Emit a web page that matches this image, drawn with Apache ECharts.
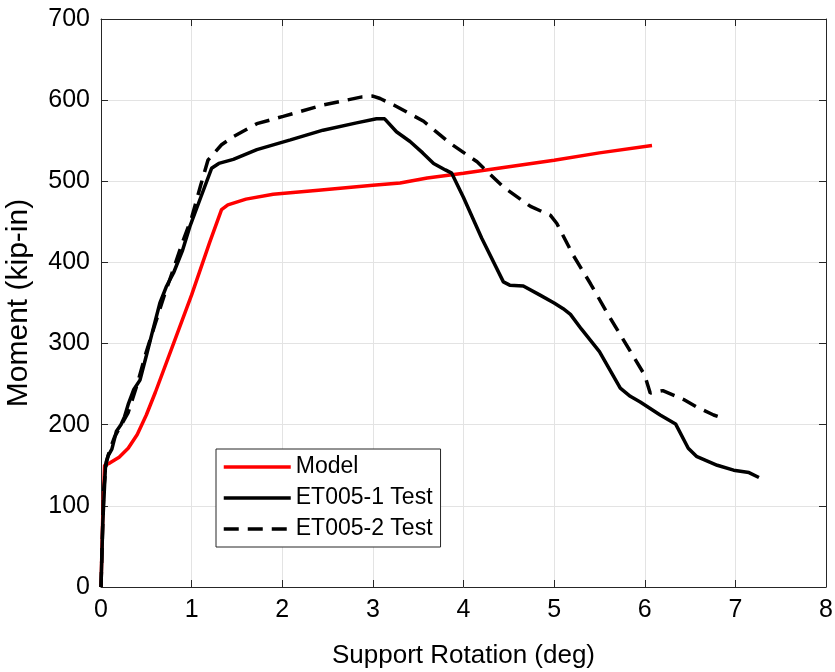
<!DOCTYPE html>
<html>
<head>
<meta charset="utf-8">
<script src="https://cdn.jsdelivr.net/npm/echarts@6/dist/echarts.min.js"></script>
<style>
html,body{margin:0;padding:0;background:#fff;}
#chart{width:835px;height:672px;}
</style>
</head>
<body>
<div id="chart"></div>
<script>
const xTicks = [0,1,2,3,4,5,6,7,8];
const yTicks = [0,100,200,300,400,500,600,700];
const seriesNames = ['Model','ET005-1 Test','ET005-2 Test'];

const modelData = [[0,0],[0.02,90],[0.04,150],[0.1,153],[0.2,160],[0.3,171],[0.4,188],[0.5,212],[0.6,240],[0.8,300],[1.0,360],[1.2,425],[1.33,465],[1.4,471],[1.6,478],[1.9,484],[2.4,489],[3.0,495],[3.3,498],[3.6,504],[4.0,510],[4.5,518],[5.0,526],[5.5,535],[6.08,544]];

const test1Data = [[0,0],[0.02,80],[0.05,150],[0.08,162],[0.12,170],[0.17,192],[0.22,200],[0.26,210],[0.3,225],[0.36,243],[0.43,255],[0.5,285],[0.58,320],[0.65,350],[0.72,370],[0.8,387],[0.9,415],[0.98,444],[1.1,480],[1.22,516],[1.3,522],[1.46,527],[1.72,539],[2.09,551],[2.45,563],[2.82,572],[3.04,577],[3.13,577],[3.26,561],[3.41,549],[3.55,535],[3.67,522],[3.8,514],[3.87,510],[4.0,480],[4.2,430],[4.44,376],[4.51,372],[4.66,371],[4.84,360],[5.0,350],[5.1,343],[5.18,336],[5.3,318],[5.5,290],[5.73,245],[5.84,235],[5.95,228],[6.17,212],[6.34,201],[6.48,171],[6.57,161],[6.8,150],[6.98,144],[7.15,141],[7.26,135]];

const test2Data = [[0,0],[0.03,120],[0.06,155],[0.1,170],[0.15,185],[0.2,195],[0.25,205],[0.3,215],[0.4,250],[0.5,290],[0.6,325],[0.7,360],[0.8,392],[0.9,425],[1.0,455],[1.1,495],[1.18,526],[1.33,545],[1.46,555],[1.72,571],[2.01,580],[2.45,594],[2.88,604],[3.0,605],[3.08,602],[3.23,594],[3.56,574],[3.85,547],[4.15,524],[4.44,493],[4.74,469],[4.96,458],[5.03,448],[5.21,409],[5.4,374],[5.6,335],[6.0,261],[6.06,239],[6.2,242],[6.43,231],[6.57,222],[6.76,212],[6.89,207]];

const FONT = '"Liberation Sans", Arial, sans-serif';
const AX = '#262626';
const LW = 3.5;

const chart = echarts.init(document.getElementById('chart'), null, {renderer:'canvas'});

function baseAxis(extra){
  return Object.assign({
    type:'value',
    axisLine:{show:true, onZero:false, lineStyle:{color:AX, width:1}},
    axisTick:{show:true, inside:true, length:7, lineStyle:{color:AX}},
    splitLine:{show:false},
  }, extra);
}

const option = {
  backgroundColor:'#fff',
  animation:false,
  grid:{left:101, right:9, top:19, bottom:85, containLabel:false, outerBoundsMode:'none'},
  xAxis:[
    baseAxis({
      min:xTicks[0], max:xTicks[xTicks.length-1], interval:1, position:'bottom',
      name:'Support Rotation (deg)', nameLocation:'middle', nameGap:56,
      nameTextStyle:{fontFamily:FONT, fontSize:26, color:'#000'},
      axisLabel:{fontFamily:FONT, fontSize:25, color:'#000', margin:11},
      splitLine:{show:true, lineStyle:{color:'#e3e3e3', width:1}}
    }),
    baseAxis({min:xTicks[0], max:xTicks[xTicks.length-1], interval:1, position:'top', axisLabel:{show:false}})
  ],
  yAxis:[
    baseAxis({
      min:yTicks[0], max:yTicks[yTicks.length-1], interval:100, position:'left',
      name:'Moment (kip-in)', nameLocation:'middle', nameGap:67,
      nameTextStyle:{fontFamily:FONT, fontSize:30, color:'#000'},
      axisLabel:{fontFamily:FONT, fontSize:25, color:'#000', margin:11},
      splitLine:{show:true, lineStyle:{color:'#e3e3e3', width:1}}
    }),
    baseAxis({min:yTicks[0], max:yTicks[yTicks.length-1], interval:100, position:'right', axisLabel:{show:false}})
  ],
  legend:{
    show:true,
    orient:'vertical',
    left:216, top:449,
    data:seriesNames,
    itemWidth:67, itemHeight:10, itemGap:7,
    padding:[6,8,6,6],
    borderColor:AX, borderWidth:1, backgroundColor:'#fff',
    itemStyle:{opacity:0},
    lineStyle:{width:LW},
    textStyle:{fontFamily:FONT, fontSize:23, color:'#000', lineHeight:24, padding:[0,0,0,0]},
    selectedMode:false
  },
  series:[
    {name:seriesNames[0], type:'line', data:modelData, symbol:'none', showSymbol:false,
     lineStyle:{color:'#ff0000', width:LW}, itemStyle:{color:'#ff0000'}, z:3},
    {name:seriesNames[1], type:'line', data:test1Data, symbol:'none', showSymbol:false,
     lineStyle:{color:'#000', width:LW}, itemStyle:{color:'#000'}, z:4},
    {name:seriesNames[2], type:'line', data:test2Data, symbol:'none', showSymbol:false,
     lineStyle:{color:'#000', width:LW, type:[15,9]}, itemStyle:{color:'#000'}, z:4}
  ]
};
chart.setOption(option);
</script>
</body>
</html>
